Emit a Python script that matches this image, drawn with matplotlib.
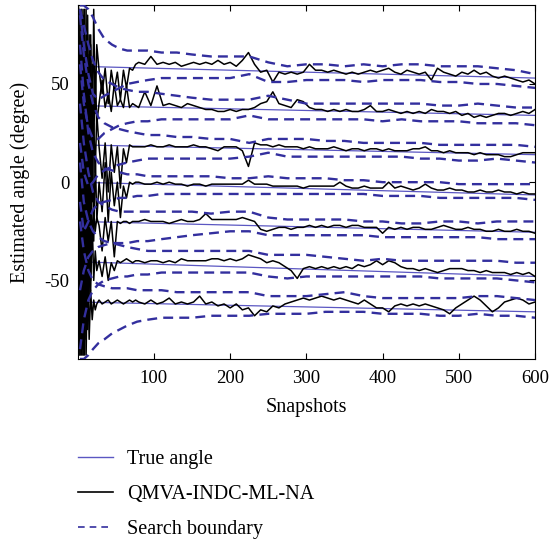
import numpy as np
import matplotlib.pyplot as plt
from matplotlib.lines import Line2D

plt.rcParams['font.family'] = 'Liberation Serif'
plt.rcParams['axes.unicode_minus'] = False

# Snapshot index of every estimate sample (dense at the start, then every 8 snapshots)
est_snap = np.concatenate([np.arange(1, 26, 2), np.arange(28, 77, 4), np.arange(80, 601, 8)])

# Estimated angles (degree), one list per source
est_1 = ([88, -75, 80, -88, 65, -50, 85, -30, 75, 10, 88, 35, 70]
         + [57, 45, 58, 40, 57, 47, 56, 42, 57, 48, 58, 57, 60]
         + [61, 60, 64, 60, 61, 60, 61, 59, 60, 61]
         + [60, 61, 60, 62, 60, 61, 59, 62, 66, 60]
         + [56, 57, 51, 56, 55, 56, 55, 56, 60, 57]
         + [57, 56, 57, 56, 55, 56, 55, 56, 57, 56]
         + [57, 58, 56, 55, 57, 56, 55, 56, 52, 58]
         + [56, 55, 54, 56, 55, 57, 55, 56, 54, 53]
         + [54, 53, 52, 51, 52, 50])
est_2 = ([-85, 70, -60, 88, -88, 50, -70, 75, -20, 60, 20, 55, 30]
         + [40, 52, 38, 45, 36, 50, 39, 42, 38, 49, 38, 40, 39]
         + [38, 46, 39, 49, 39, 40, 39, 38, 40, 39]
         + [38, 37, 37, 36, 36, 37, 36, 37, 37, 38]
         + [40, 41, 46, 40, 39, 38, 42, 41, 38, 37]
         + [37, 36, 37, 36, 37, 36, 36, 37, 39, 36]
         + [36, 37, 36, 35, 36, 35, 36, 35, 37, 36]
         + [36, 35, 36, 34, 35, 33, 34, 33, 34, 35]
         + [35, 34, 35, 36, 35, 37])
est_3 = ([60, -88, 85, -40, 88, -80, 40, -60, 70, -10, 30, 5, 35]
         + [18, 2, 20, -5, 19, 5, 18, -3, 17, 10, 19, 18, 18]
         + [18, 18, 19, 18, 18, 19, 18, 18, 18, 19]
         + [18, 18, 17, 16, 18, 18, 18, 16, 8, 20]
         + [19, 19, 18, 19, 18, 18, 18, 17, 18, 17]
         + [17, 17, 18, 17, 16, 17, 17, 16, 17, 17]
         + [16, 17, 16, 16, 16, 17, 17, 18, 16, 16]
         + [15, 16, 15, 15, 15, 14, 15, 14, 14, 14]
         + [13, 13, 14, 15, 15, 15])
est_4 = ([-88, 60, -85, 85, -70, 88, -40, 65, -50, 40, -30, 15, -20]
         + [0, -15, 10, -20, 5, -12, 0, -18, -2, -8, 0, -1, 0]
         + [0, -1, -1, 0, -1, 0, -1, -1, -2, -1]
         + [-1, -2, -1, -1, -1, -1, -1, -1, 1, -1]
         + [-1, -1, -2, -2, -2, -2, -2, -3, -2, -2]
         + [-2, -2, -2, 0, -2, -3, -3, -2, -3, -3]
         + [-3, 0, -3, -2, -3, -4, -3, -1, -3, -4]
         + [-4, -3, -4, -4, -5, -5, -4, -5, -5, -4]
         + [-5, -5, -6, -5, -6, -6])
est_5 = ([85, -88, 88, -85, 50, -70, 30, -45, 5, -30, -15, -25, -18]
         + [-22, -35, -18, -30, -20, -38, -20, -21, -20, -20, -21, -20, -20]
         + [-20, -19, -20, -20, -20, -21, -20, -19, -20, -20]
         + [-19, -16, -19, -19, -19, -19, -19, -18, -19, -20]
         + [-24, -25, -24, -23, -23, -24, -23, -23, -22, -23]
         + [-22, -23, -22, -22, -23, -22, -22, -23, -23, -23]
         + [-26, -23, -24, -23, -24, -23, -23, -24, -24, -23]
         + [-22, -23, -24, -24, -23, -24, -24, -25, -25, -24]
         + [-25, -25, -24, -25, -25, -26])
est_6 = ([-60, 88, -88, 70, -80, 40, -75, 10, -55, -20, -50, -35, -45]
         + [-40, -48, -38, -50, -41, -45, -40, -41, -40, -39, -40, -41, -40]
         + [-40, -41, -40, -40, -41, -40, -41, -39, -40, -40]
         + [-40, -40, -39, -39, -40, -39, -40, -39, -37, -38]
         + [-39, -41, -40, -41, -43, -45, -49, -44, -43, -44]
         + [-43, -44, -43, -44, -43, -44, -42, -43, -42, -40]
         + [-42, -40, -41, -43, -44, -44, -45, -44, -45, -46]
         + [-45, -44, -44, -44, -45, -45, -46, -45, -46, -46]
         + [-46, -47, -46, -47, -46, -48])
est_7 = ([90, -60, 70, -88, 30, -88, -40, -80, -55, -70, -60, -65, -62]
         + [-60, -62, -61, -60, -62, -61, -60, -61, -62, -61, -60, -61, -60]
         + [-61, -62, -60, -62, -61, -59, -62, -61, -62, -61]
         + [-58, -62, -61, -63, -62, -64, -62, -65, -64, -68]
         + [-65, -66, -63, -64, -62, -61, -60, -59, -60, -59]
         + [-58, -59, -60, -59, -60, -61, -62, -60, -62, -64]
         + [-64, -66, -63, -62, -63, -62, -63, -62, -63, -64]
         + [-65, -67, -64, -62, -60, -58, -60, -63, -66, -64]
         + [-61, -60, -59, -60, -62, -61])

# Search boundaries (upper / lower) per source
bound_snap = [3, 8, 14, 20, 27, 35, 45, 55, 65, 78, 92, 110, 130, 150, 175, 200,
              225, 250, 275, 300, 325, 350, 375, 400, 425, 450, 475, 500, 525, 550, 575, 600]
upper_1 = [90, 90, 88, 84, 78, 73, 70, 68, 67, 67, 67, 66, 66, 65, 64, 64,
           64, 61, 59, 60, 60, 59, 60, 59, 60, 60, 59, 59, 59, 58, 57, 55]
lower_1 = [88, 70, 55, 45, 42, 44, 46, 48, 50, 51, 52, 53, 53, 53, 53, 53,
           55, 51, 51, 52, 52, 52, 51, 52, 52, 52, 51, 51, 50, 50, 49, 48]
upper_2 = [88, 80, 70, 62, 56, 52, 50, 48, 47, 46, 46, 45, 44, 43, 42, 42,
           42, 44, 42, 40, 40, 40, 40, 40, 40, 40, 39, 39, 40, 39, 38, 38]
lower_2 = [60, 40, 28, 22, 22, 25, 27, 29, 30, 31, 31, 32, 32, 32, 32, 32,
           34, 32, 32, 32, 32, 32, 32, 31, 32, 31, 31, 31, 30, 30, 30, 29]
upper_3 = [85, 65, 50, 40, 33, 30, 28, 27, 26, 25, 24, 24, 23, 23, 22, 22,
           20, 22, 22, 22, 21, 21, 20, 20, 20, 20, 19, 19, 19, 19, 19, 18]
lower_3 = [20, 5, -2, 0, 4, 6, 8, 9, 10, 11, 12, 12, 12, 12, 12, 12,
           13, 15, 13, 13, 13, 13, 13, 13, 13, 12, 12, 11, 11, 12, 11, 10]
upper_4 = [70, 45, 25, 15, 10, 7, 6, 5, 4, 4, 3, 3, 3, 3, 3, 2,
           2, 3, 2, 2, 2, 1, 1, 0, 0, 0, 0, -1, -1, -1, -1, -1]
lower_4 = [-10, -25, -20, -14, -11, -10, -9, -8, -8, -7, -7, -6, -6, -6, -6, -6,
           -6, -6, -6, -6, -6, -6, -6, -7, -7, -7, -8, -8, -8, -8, -8, -9]
upper_5 = [40, 20, 5, -5, -10, -12, -14, -15, -15, -15, -15, -15, -15, -15, -16, -15,
           -15, -18, -19, -19, -19, -19, -20, -20, -21, -21, -20, -20, -21, -20, -20, -20]
lower_5 = [-55, -45, -38, -35, -33, -32, -31, -31, -31, -30, -30, -29, -28, -27, -26, -25,
           -25, -27, -27, -27, -27, -27, -27, -28, -28, -28, -28, -28, -28, -29, -29, -29]
upper_6 = [10, -10, -20, -25, -28, -30, -31, -32, -33, -34, -35, -35, -35, -35, -35, -35,
           -35, -37, -37, -37, -38, -39, -40, -39, -40, -40, -40, -40, -40, -40, -41, -41]
lower_6 = [-85, -70, -60, -55, -52, -50, -49, -48, -48, -47, -47, -46, -46, -46, -46, -46,
           -46, -48, -49, -48, -48, -48, -48, -48, -48, -48, -49, -49, -49, -49, -50, -51]
upper_7 = [-20, -35, -45, -50, -52, -53, -54, -54, -54, -55, -55, -55, -56, -56, -56, -56,
           -56, -58, -58, -58, -57, -56, -58, -59, -59, -59, -59, -59, -58, -58, -59, -60]
lower_7 = [-90, -90, -88, -85, -82, -80, -77, -75, -73, -71, -70, -69, -69, -69, -68, -68,
           -68, -67, -67, -67, -66, -66, -66, -67, -67, -67, -68, -68, -67, -68, -68, -69]

# True angles drift linearly from the first to the last snapshot
true_snap = [1, 600]
true_start = [59, 39, 19, 0, -20, -40.5, -61]
true_end = [53, 34, 14, -6.5, -25.5, -48, -66]

estimates = [est_1, est_2, est_3, est_4, est_5, est_6, est_7]
uppers = [upper_1, upper_2, upper_3, upper_4, upper_5, upper_6, upper_7]
lowers = [lower_1, lower_2, lower_3, lower_4, lower_5, lower_6, lower_7]

true_color = '#5b57c2'
bound_color = '#332f9e'
dash = (4.2, 2.6)

fig = plt.figure(figsize=(5.5, 5.39), dpi=100)
ax = fig.add_axes([0.1413, 0.334, 0.8315, 0.656])

for k in range(7):
    ax.plot(true_snap, [true_start[k], true_end[k]], color=true_color, lw=0.9, zorder=1)
for est in estimates:
    ax.plot(est_snap, est, color='black', lw=1.1, zorder=2)
for up, lo in zip(uppers, lowers):
    ax.plot(bound_snap, up, color=bound_color, lw=1.7, dashes=dash, zorder=3)
    ax.plot(bound_snap, lo, color=bound_color, lw=1.7, dashes=dash, zorder=3)

ax.set_xlim(0, 600)
ax.set_ylim(-90, 90)
ax.set_xticks([100, 200, 300, 400, 500, 600])
ax.set_yticks([-50, 0, 50])
ax.tick_params(direction='in', top=True, right=True, length=4, labelsize=13.5)
ax.tick_params(axis='x', pad=8)
ax.tick_params(axis='y', pad=6)
ax.set_xlabel('Snapshots', fontsize=14.5, labelpad=8)
ax.set_ylabel('Estimated angle (degree)', fontsize=14.5, labelpad=10)

handles = [Line2D([], [], color=true_color, lw=1.0),
           Line2D([], [], color='black', lw=1.2),
           Line2D([], [], color=bound_color, lw=1.2, dashes=(4, 3))]
labels = ['True angle', 'QMVA-INDC-ML-NA', 'Search boundary']
fig.legend(handles, labels, loc='upper left', bbox_to_anchor=(0.1418, 0.165),
           frameon=False, fontsize=14.5, handlelength=1.75, handletextpad=0.7,
           labelspacing=0.78, borderpad=0, borderaxespad=0)

plt.savefig('out.png', dpi=100)
